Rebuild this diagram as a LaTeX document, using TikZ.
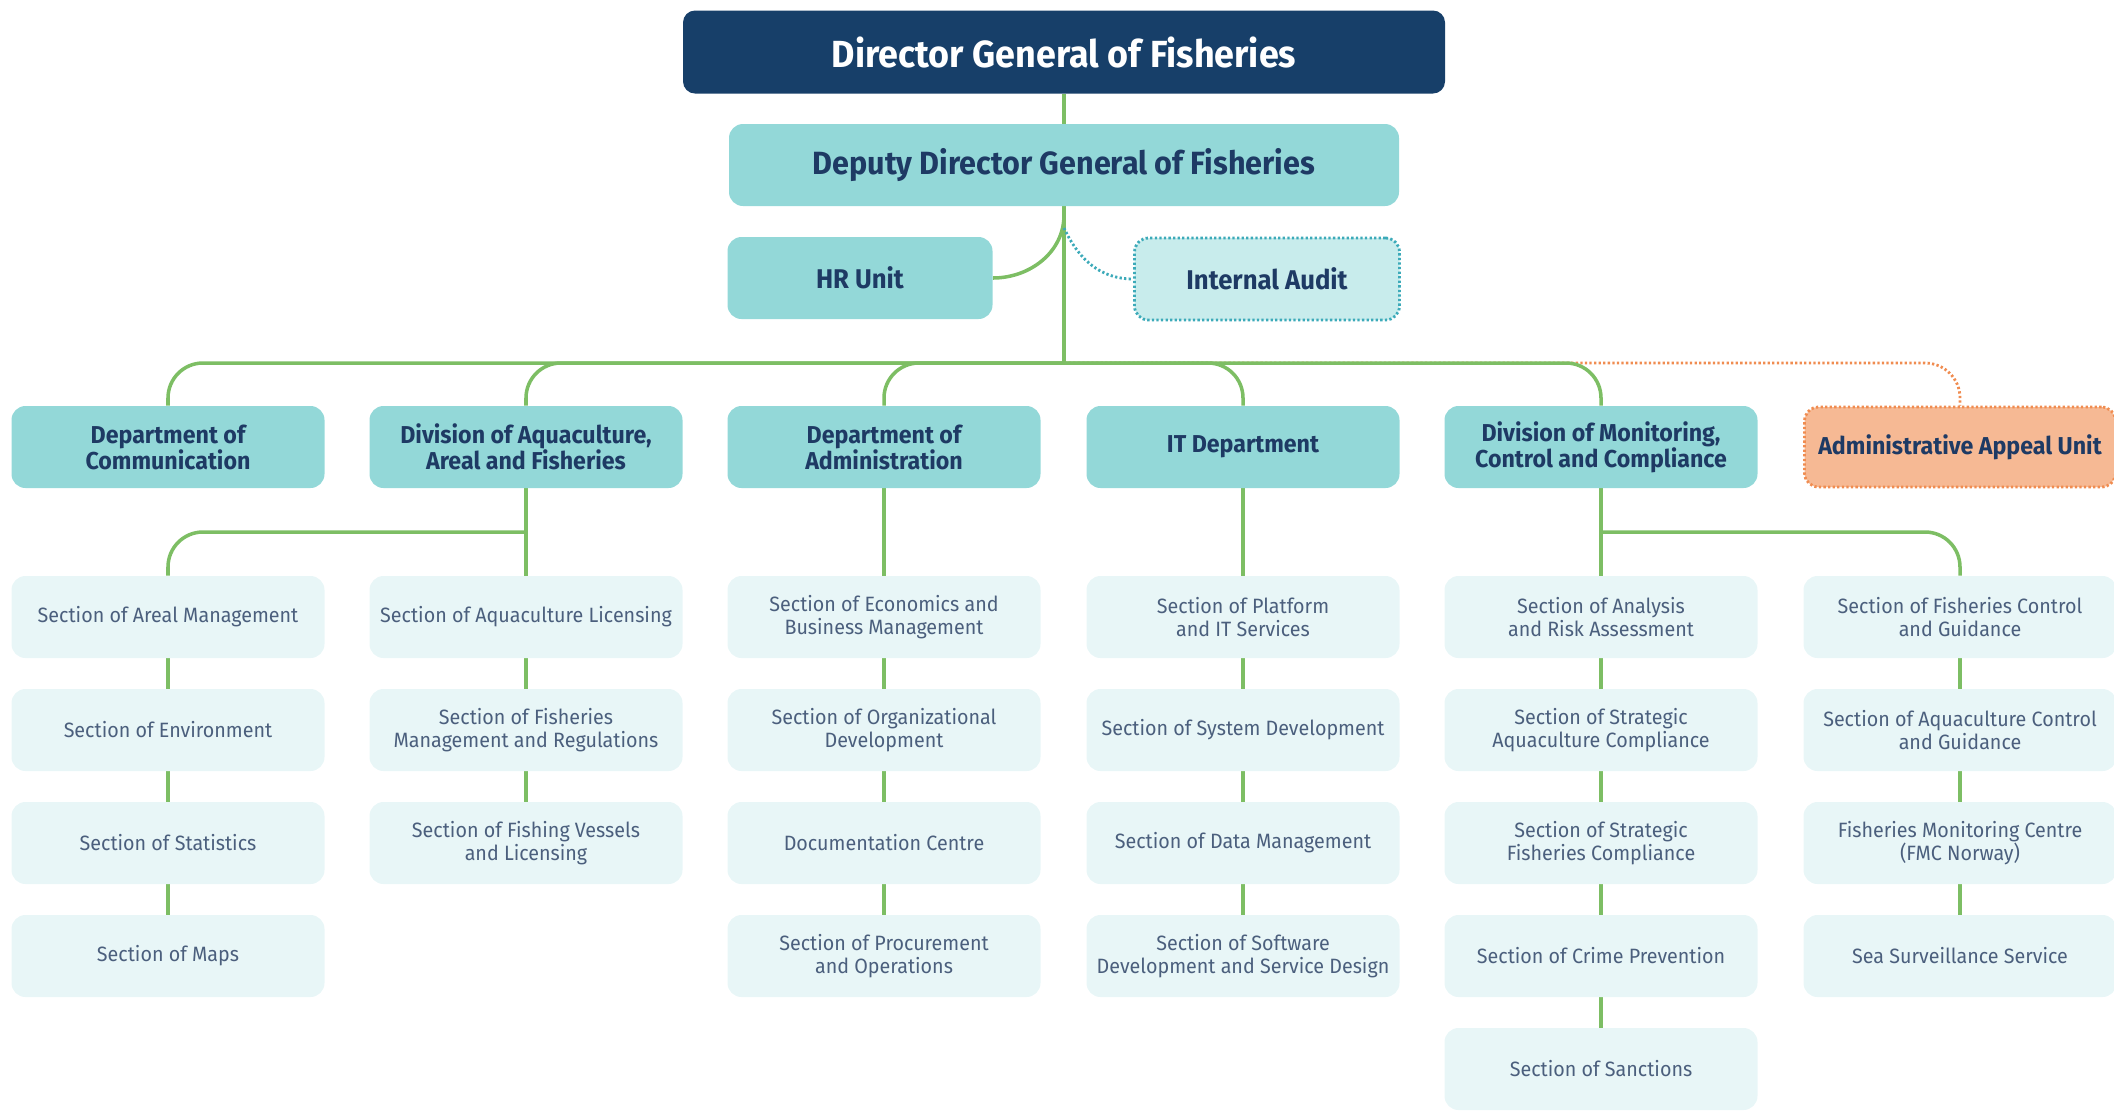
\documentclass[tikz,border=0pt]{standalone}
\usepackage{fontspec}
\setmainfont{Fira Sans}[FakeStretch=0.95]
\pgfdeclarelayer{edgelayer}
\pgfdeclarelayer{nodelayer}
\pgfsetlayers{edgelayer,nodelayer,main}
\definecolor{navy}{RGB}{23,63,105}
\definecolor{inknavy}{RGB}{30,58,100}
\definecolor{tealfill}{RGB}{147,216,216}
\definecolor{auditfill}{RGB}{200,236,236}
\definecolor{auditline}{RGB}{60,170,185}
\definecolor{appealfill}{RGB}{246,185,148}
\definecolor{appealline}{RGB}{240,140,80}
\definecolor{secfill}{RGB}{232,246,247}
\definecolor{secink}{RGB}{75,95,125}
\definecolor{linkgreen}{RGB}{125,190,100}
\tikzstyle{none}=[inner sep=0pt]
\tikzstyle{director}=[rectangle,rounded corners=0.24cm,fill=navy,text=white,minimum width=15.24cm,minimum height=1.66cm,font=\fontsize{21.5}{24}\selectfont\bfseries]
\tikzstyle{deputy}=[rectangle,rounded corners=0.28cm,fill=tealfill,text=inknavy,minimum width=13.40cm,minimum height=1.64cm,font=\fontsize{18.3}{21}\selectfont\bfseries]
\tikzstyle{unit}=[rectangle,rounded corners=0.28cm,fill=tealfill,text=inknavy,minimum width=5.30cm,minimum height=1.64cm,font=\fontsize{15.4}{18}\selectfont\bfseries]
\tikzstyle{audit}=[rectangle,rounded corners=0.28cm,fill=auditfill,draw=auditline,line width=1.6pt,dash pattern=on 1.3pt off 1.3pt,text=inknavy,minimum width=5.30cm,minimum height=1.64cm,font=\fontsize{15.4}{18}\selectfont\bfseries]
\tikzstyle{dept}=[rectangle,rounded corners=0.28cm,fill=tealfill,text=inknavy,align=center,minimum width=6.26cm,minimum height=1.64cm,font=\fontsize{13.9}{14.8}\selectfont\bfseries]
\tikzstyle{appeal}=[rectangle,rounded corners=0.28cm,fill=appealfill,draw=appealline,line width=1.6pt,dash pattern=on 1.3pt off 1.3pt,text=inknavy,minimum width=6.22cm,minimum height=1.60cm,font=\fontsize{13.9}{14.8}\selectfont\bfseries]
\tikzstyle{section}=[rectangle,rounded corners=0.28cm,fill=secfill,text=secink,align=center,minimum width=6.26cm,minimum height=1.64cm,font=\fontsize{11.8}{13}\selectfont]
\tikzstyle{link}=[-,draw=linkgreen,line width=2pt]
\tikzstyle{curvelink}=[-,draw=linkgreen,line width=2pt,rounded corners=0.7cm]
\tikzstyle{auditlink}=[-,draw=auditline,line width=1.6pt,dash pattern=on 1.3pt off 1.3pt]
\tikzstyle{appeallink}=[-,draw=appealline,line width=1.6pt,dash pattern=on 1.3pt off 1.3pt,rounded corners=0.7cm]

\begin{document}
\begin{tikzpicture}
	\useasboundingbox (0.000,0.000) rectangle (42.280,-22.240);
	\begin{pgfonlayer}{nodelayer}
		\node [style=director] (director) at (21.280,-1.040) {Director General of Fisheries};
		\node [style=deputy] (deputy) at (21.280,-3.300) {Deputy Director General of Fisheries};
		\node [style=unit] (hr) at (17.200,-5.560) {HR Unit};
		\node [style=audit] (audit) at (25.340,-5.580) {Internal Audit};
		\node [style=dept] (comm) at (3.360,-8.940) {Department of\\Communication};
		\node [style=dept] (aqua) at (10.520,-8.940) {Division of Aquaculture,\\Areal and Fisheries};
		\node [style=dept] (admin) at (17.680,-8.940) {Department of\\Administration};
		\node [style=dept] (it) at (24.860,-8.940) {IT Department};
		\node [style=dept] (monit) at (32.020,-8.940) {Division of Monitoring,\\Control and Compliance};
		\node [style=appeal] (appeal) at (39.200,-8.940) {Administrative Appeal Unit};
		\node [style=section] (areal) at (3.360,-12.340) {Section of Areal Management};
		\node [style=section] (environ) at (3.360,-14.600) {Section of Environment};
		\node [style=section] (stats) at (3.360,-16.860) {Section of Statistics};
		\node [style=section] (maps) at (3.360,-19.120) {Section of Maps};
		\node [style=section] (aqualic) at (10.520,-12.340) {Section of Aquaculture Licensing};
		\node [style=section] (fishmgmt) at (10.520,-14.600) {Section of Fisheries\\Management and Regulations};
		\node [style=section] (vessels) at (10.520,-16.860) {Section of Fishing Vessels\\and Licensing};
		\node [style=section] (econ) at (17.680,-12.340) {Section of Economics and\\Business Management};
		\node [style=section] (orgdev) at (17.680,-14.600) {Section of Organizational\\Development};
		\node [style=section] (doccentre) at (17.680,-16.860) {Documentation Centre};
		\node [style=section] (procure) at (17.680,-19.120) {Section of Procurement\\and Operations};
		\node [style=section] (platform) at (24.860,-12.340) {Section of Platform\\and IT Services};
		\node [style=section] (sysdev) at (24.860,-14.600) {Section of System Development};
		\node [style=section] (datamgmt) at (24.860,-16.860) {Section of Data Management};
		\node [style=section] (software) at (24.860,-19.120) {Section of Software\\Development and Service Design};
		\node [style=section] (analysis) at (32.020,-12.340) {Section of Analysis\\and Risk Assessment};
		\node [style=section] (aquacomp) at (32.020,-14.600) {Section of Strategic\\Aquaculture Compliance};
		\node [style=section] (fishcomp) at (32.020,-16.860) {Section of Strategic\\Fisheries Compliance};
		\node [style=section] (crime) at (32.020,-19.120) {Section of Crime Prevention};
		\node [style=section] (sanctions) at (32.020,-21.380) {Section of Sanctions};
		\node [style=section] (fishctrl) at (39.200,-12.340) {Section of Fisheries Control\\and Guidance};
		\node [style=section] (aquactrl) at (39.200,-14.600) {Section of Aquaculture Control\\and Guidance};
		\node [style=section] (fmc) at (39.200,-16.860) {Fisheries Monitoring Centre\\(FMC Norway)};
		\node [style=section] (seasurv) at (39.200,-19.120) {Sea Surveillance Service};
	\end{pgfonlayer}
	\begin{pgfonlayer}{edgelayer}
		\coordinate (hrjoin) at (21.280,-4.300);
		\coordinate (auditjoin) at (21.280,-4.560);
		\coordinate (bus) at (21.280,-7.260);
		\coordinate (aquabus) at (10.520,-10.640);
		\coordinate (monitbus) at (32.020,-10.640);
		\draw [style=appeallink] (bus) -| (appeal.north);
		\draw [style=link] (director) to (deputy);
		\draw [style=link] (deputy) to (bus);
		\draw [style=link] (hrjoin) to[out=-90,in=0] (hr.east);
		\draw [style=auditlink] (auditjoin) to[out=-65,in=180] (audit.west);
		\draw [style=curvelink] (comm.north) |- (bus);
		\draw [style=curvelink] (aqua.north) |- (bus);
		\draw [style=curvelink] (admin.north) |- (bus);
		\draw [style=curvelink] (it.north) |- (bus);
		\draw [style=curvelink] (monit.north) |- (bus);
		\draw [style=link] (aqua) to (aqualic);
		\draw [style=curvelink] (areal.north) |- (aquabus);
		\draw [style=link] (admin) to (econ);
		\draw [style=link] (it) to (platform);
		\draw [style=link] (monit) to (analysis);
		\draw [style=curvelink] (fishctrl.north) |- (monitbus);
		\draw [style=link] (areal) to (environ);
		\draw [style=link] (environ) to (stats);
		\draw [style=link] (stats) to (maps);
		\draw [style=link] (aqualic) to (fishmgmt);
		\draw [style=link] (fishmgmt) to (vessels);
		\draw [style=link] (econ) to (orgdev);
		\draw [style=link] (orgdev) to (doccentre);
		\draw [style=link] (doccentre) to (procure);
		\draw [style=link] (platform) to (sysdev);
		\draw [style=link] (sysdev) to (datamgmt);
		\draw [style=link] (datamgmt) to (software);
		\draw [style=link] (analysis) to (aquacomp);
		\draw [style=link] (aquacomp) to (fishcomp);
		\draw [style=link] (fishcomp) to (crime);
		\draw [style=link] (crime) to (sanctions);
		\draw [style=link] (fishctrl) to (aquactrl);
		\draw [style=link] (aquactrl) to (fmc);
		\draw [style=link] (fmc) to (seasurv);
	\end{pgfonlayer}
\end{tikzpicture}
\end{document}
